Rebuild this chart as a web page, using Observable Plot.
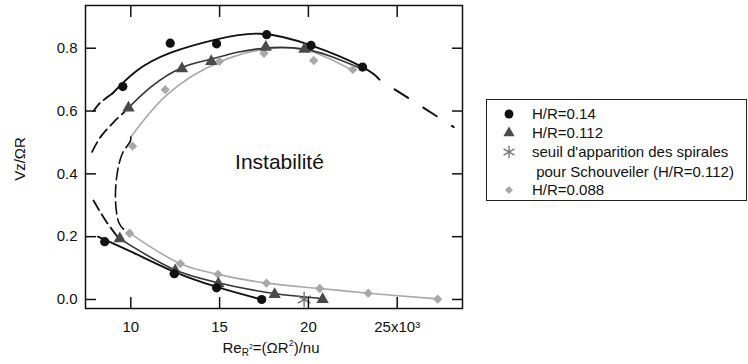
<!DOCTYPE html>
<html>
<head>
<meta charset="utf-8">
<script src="https://cdn.jsdelivr.net/npm/d3@7"></script>
<script src="https://cdn.jsdelivr.net/npm/@observablehq/plot@0.6"></script>
<style>
  body { margin: 0; font-family: "Liberation Sans", Arial, Helvetica, sans-serif; }
  #legend { position: absolute; left: 486px; top: 99px; width: 261px; height: 102px; border: 1.5px solid #222; box-sizing: border-box; color: #111; }
  .row { position: absolute; left: 0; height: 18px; line-height: 18px; font-size: 15px; white-space: nowrap; }
  .row svg { position: absolute; left: 14px; top: 1px; }
  .row span { position: absolute; left: 45px; top: 0; }
  #xlabel { position: absolute; left: 0; width: 542px; top: 338px; text-align: center; font-size: 15px; white-space: nowrap; color: #111; }
  #xlabel sub { font-size: 10px; vertical-align: -3px; }
  #xlabel sub sup { font-size: 7px; vertical-align: 7px; }
  #xlabel > sup { font-size: 9px; vertical-align: 7px; }
  #ylabel { position: absolute; left: 19px; top: 159px; transform: translate(-50%, -50%) rotate(-90deg); font-size: 15px; white-space: nowrap; color: #111; }
</style>
</head>
<body>
<div id="chart"></div>
<div id="xlabel">Re<sub>R<sup>2</sup></sub>=(ΩR<sup>2</sup>)/nu</div>
<div id="ylabel">Vz/ΩR</div>
<div id="legend"></div>
<script>
// ---- tick values ----
const xTicks = [10, 15, 20, 25];
const yTicks = [0, 0.2, 0.4, 0.6, 0.8];

// ---- measured points (x in 10^3 units, y = Vz/ΩR) ----
const hr014Up  = [[9.55,0.678],[12.22,0.816],[14.83,0.814],[17.65,0.843],[20.15,0.809],[23.05,0.740]];
const hr014Low = [[8.53,0.184],[12.45,0.082],[14.83,0.037],[17.37,0.0]];
const hr0112Up  = [[9.87,0.610],[12.88,0.735],[14.53,0.758],[17.6,0.803],[19.78,0.797]];
const hr0112Low = [[9.38,0.194],[12.5,0.092],[14.93,0.050],[18.1,0.016],[20.8,0.0]];
const schouveiler = [[19.76,0.0]];
const hr0088Up  = [[10.1,0.488],[11.94,0.668],[14.99,0.758],[17.5,0.784],[20.3,0.761],[22.5,0.732]];
const hr0088Low = [[9.93,0.211],[12.79,0.114],[14.91,0.080],[17.64,0.052],[20.64,0.035],[23.37,0.020],[27.28,0.001]];

// ---- fitted curves ----
const fit014Up   = [[8.95,0.655],[10.3,0.727],[12.22,0.785],[14.83,0.828],[17.3,0.846],[20.15,0.809],[23.05,0.740],[24.0,0.700]];
const fit014UpDash  = [[7.9,0.600],[8.2,0.622],[8.6,0.641],[8.95,0.655]];
const fit014RightDash = [[24.0,0.700],[28.18,0.549]];
const fit014Low  = [[8.15,0.200],[10.55,0.138],[12.45,0.088],[14.83,0.040],[17.37,0.0]];

const fit0112Up  = [[9.6,0.595],[11.12,0.676],[12.88,0.738],[14.53,0.765],[16.0,0.787],[18.0,0.802],[19.78,0.797],[21.2,0.775],[22.77,0.740]];
const fit0112UpDash  = [[7.82,0.470],[8.29,0.517],[9.04,0.565],[9.6,0.595]];
const fit0112LowDash = [[7.9,0.315],[8.57,0.252],[9.3,0.196]];
const fit0112Low = [[9.3,0.196],[12.5,0.094],[14.79,0.055],[18.07,0.019],[20.6,0.004]];

const fit0088Up  = [[10.0,0.517],[12.05,0.652],[14.99,0.756],[18.0,0.800],[20.3,0.787],[22.49,0.729]];
const fit0088Dash = [[10.0,0.517],[9.98,0.505],[9.52,0.464],[9.23,0.400],[9.14,0.315],[9.32,0.246],[9.6,0.223],[9.9,0.213]];
const fit0088Low = [[9.9,0.213],[12.79,0.114],[14.91,0.080],[17.64,0.052],[20.64,0.035],[23.37,0.020],[27.28,0.002]];

const annotation = [{x: 18.37, y: 0.437, text: "Instabilité"}];

const cBlack = "#111", cDark = "#4a4a4a", cDarkLine = "#333", cLight = "#a8a8a8", cStar = "#707070";
const X = d => d[0], Y = d => d[1];

const chart = Plot.plot({
  width: 748, height: 364,
  marginLeft: 85, marginRight: 286, marginTop: 5, marginBottom: 56,
  style: {fontFamily: '"Liberation Sans", Arial, Helvetica, sans-serif', fontSize: "15px", color: "#111"},
  x: {domain: [7.449, 28.677]},
  y: {domain: [-0.0287, 0.936]},
  marks: [
    Plot.frame({stroke: cBlack, strokeWidth: 1.5, fill: "none"}),

    // H/R = 0.088 (light gray)
    Plot.line(fit0088Up, {x: X, y: Y, curve: "natural", stroke: cLight, strokeWidth: 1.6}),
    Plot.line(fit0088Low, {x: X, y: Y, curve: "catmull-rom", stroke: cLight, strokeWidth: 1.6}),
    Plot.line(fit0088Dash, {x: X, y: Y, curve: "catmull-rom", stroke: cBlack, strokeWidth: 1.6, strokeDasharray: "12,5"}),

    // H/R = 0.112 (dark gray)
    Plot.line(fit0112Up, {x: X, y: Y, curve: "natural", stroke: cDarkLine, strokeWidth: 1.6}),
    Plot.line(fit0112Low, {x: X, y: Y, curve: "catmull-rom", stroke: cDarkLine, strokeWidth: 1.6}),
    Plot.line(fit0112UpDash, {x: X, y: Y, curve: "catmull-rom", stroke: cBlack, strokeWidth: 1.8, strokeDasharray: "11,5"}),
    Plot.line(fit0112LowDash, {x: X, y: Y, curve: "catmull-rom", stroke: cBlack, strokeWidth: 1.8, strokeDasharray: "11,5"}),

    // H/R = 0.14 (black)
    Plot.line(fit014Up, {x: X, y: Y, curve: "natural", stroke: cBlack, strokeWidth: 1.9}),
    Plot.line(fit014Low, {x: X, y: Y, curve: "natural", stroke: cBlack, strokeWidth: 1.9}),
    Plot.line(fit014UpDash, {x: X, y: Y, curve: "catmull-rom", stroke: cBlack, strokeWidth: 1.9, strokeDasharray: "10,5"}),
    Plot.line(fit014RightDash, {x: X, y: Y, stroke: cBlack, strokeWidth: 2, strokeDasharray: "16,18", strokeDashoffset: 16}),

    // markers
    Plot.dot(hr0088Up, {x: X, y: Y, symbol: "diamond2", r: 4.2, fill: cLight, stroke: "none"}),
    Plot.dot(hr0088Low, {x: X, y: Y, symbol: "diamond2", r: 4.2, fill: cLight, stroke: "none"}),
    Plot.dot(hr0112Up, {x: X, y: Y, symbol: "triangle", r: 4.6, fill: cDark, stroke: "none"}),
    Plot.dot(hr0112Low, {x: X, y: Y, symbol: "triangle", r: 4.6, fill: cDark, stroke: "none"}),
    Plot.dot(schouveiler, {x: X, y: Y, symbol: "asterisk", r: 7, stroke: cStar, strokeWidth: 1.4, fill: "none"}),
    Plot.dot(hr014Up, {x: X, y: Y, symbol: "circle", r: 4.6, fill: cBlack, stroke: "none"}),
    Plot.dot(hr014Low, {x: X, y: Y, symbol: "circle", r: 4.6, fill: cBlack, stroke: "none"}),

    Plot.text(annotation, {x: "x", y: "y", text: "text", fontSize: 21, fill: cBlack}),

    // axes with inward ticks (negative tickSize) on all four sides
    Plot.axisX(xTicks, {anchor: "bottom", tickSize: -11, tickPadding: 24, strokeWidth: 1.5, stroke: cBlack, tickFormat: d => d === 25 ? "25x10³" : String(d), label: null}),
    Plot.axisX(xTicks, {anchor: "top", tickSize: -11, strokeWidth: 1.5, stroke: cBlack, tickFormat: () => "", label: null}),
    Plot.axisY(yTicks, {anchor: "left", tickSize: -11, tickPadding: 19, strokeWidth: 1.5, stroke: cBlack, tickFormat: d3.format(".1f"), label: null}),
    Plot.axisY(yTicks, {anchor: "right", tickSize: -11, strokeWidth: 1.5, stroke: cBlack, tickFormat: () => "", label: null})
  ]
});
document.getElementById("chart").appendChild(chart);

// ---- legend (HTML, markers as small svg) ----
const legendItems = [
  {label: "H/R=0.14", symbol: d3.symbolCircle, size: 62, fill: cBlack, stroke: "none", top: 5},
  {label: "H/R=0.112", symbol: d3.symbolTriangle, size: 55, fill: cDark, stroke: "none", top: 23.5},
  {label: "seuil d'apparition des spirales", symbol: d3.symbolAsterisk, size: 110, fill: "none", stroke: cStar, top: 42.5},
  {label: " pour Schouveiler (H/R=0.112)", symbol: null, top: 62.5},
  {label: "H/R=0.088", symbol: d3.symbolDiamond2, size: 40, fill: cLight, stroke: "none", top: 81}
];
const legend = d3.select("#legend");
for (const it of legendItems) {
  const row = legend.append("div").attr("class", "row").style("top", it.top + "px");
  if (it.symbol) {
    const s = row.append("svg").attr("width", 16).attr("height", 16);
    s.append("path").attr("transform", "translate(8,8)")
      .attr("d", d3.symbol(it.symbol, it.size)())
      .attr("fill", it.fill).attr("stroke", it.stroke).attr("stroke-width", 1.3);
  }
  row.append("span").style("white-space", "pre").text(it.label);
}
</script>
</body>
</html>
